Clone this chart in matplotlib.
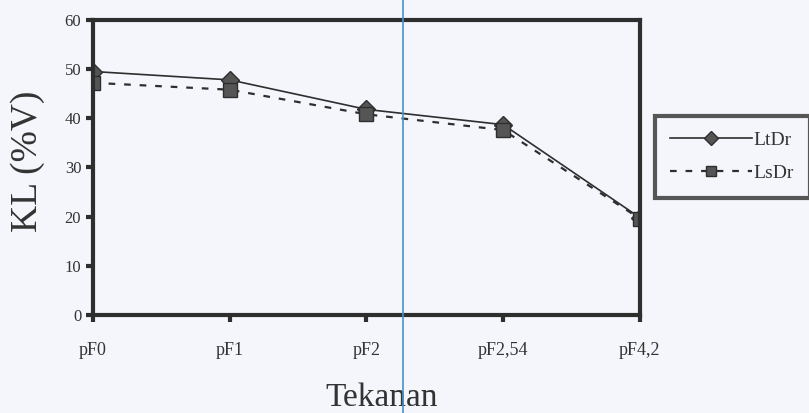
import matplotlib.pyplot as plt
import matplotlib.lines as mlines
import numpy as np

# data
tekanan = ['pF0', 'pF1', 'pF2', 'pF2,54', 'pF4,2']
ltdr = [49.5, 47.8, 41.8, 38.7, 19.8]
lsdr = [47.2, 45.8, 40.8, 37.6, 19.6]
y_ticks = [0, 10, 20, 30, 40, 50, 60]

plt.rcParams['font.family'] = ['Liberation Serif', 'DejaVu Serif']

fig = plt.figure(figsize=(8.09, 4.13), dpi=100, facecolor='#f4f6fb')
ax = fig.add_axes([0.115, 0.237, 0.676, 0.715])
ax.set_facecolor('#f4f6fb')

x = np.arange(len(tekanan))
ink = '#2e2e2e'
ax.plot(x, ltdr, color=ink, lw=1.2, marker='D', ms=9, mfc='#555555', mec=ink, label='LtDr')
ax.plot(x, lsdr, color=ink, lw=1.6, ls=(0, (3, 4)), marker='s', ms=10, mfc='#555555', mec=ink, label='LsDr')

ax.set_xlim(0, len(tekanan) - 1)
ax.set_ylim(0, 60)
ax.set_xticks(x)
ax.set_xticklabels(tekanan, fontsize=13, color='#333333')
ax.set_yticks(y_ticks)
ax.set_yticklabels([str(v) for v in y_ticks], fontsize=12, color='#333333')
ax.tick_params(axis='both', direction='out', length=5, width=3, color=ink)
ax.tick_params(axis='x', pad=14)
for s in ax.spines.values():
    s.set_linewidth(3)
    s.set_color(ink)

ax.set_ylabel('KL (%V)', fontsize=27, color='#333333')
ax.yaxis.set_label_coords(-0.088, 0.52)
ax.set_xlabel('Tekanan', fontsize=24, color='#333333')
ax.xaxis.set_label_coords(0.527, -0.228)

leg = ax.legend(loc='upper left', bbox_to_anchor=(1.027, 0.675), fontsize=14,
                frameon=True, fancybox=False, edgecolor=ink, facecolor='#f4f6fb',
                handlelength=4.2, borderpad=0.8, labelspacing=0.8, handletextpad=0.1,
                markerscale=0.75, borderaxespad=0)
leg.get_frame().set_linewidth(3)
for t in leg.get_texts():
    t.set_color('#333333')

# thin blue scan line through the page
fig.add_artist(mlines.Line2D([403 / 809, 403 / 809], [0, 1], color='#4a90c8', lw=1.2))

plt.savefig('out.png', dpi=100, facecolor=fig.get_facecolor())
plt.close()
